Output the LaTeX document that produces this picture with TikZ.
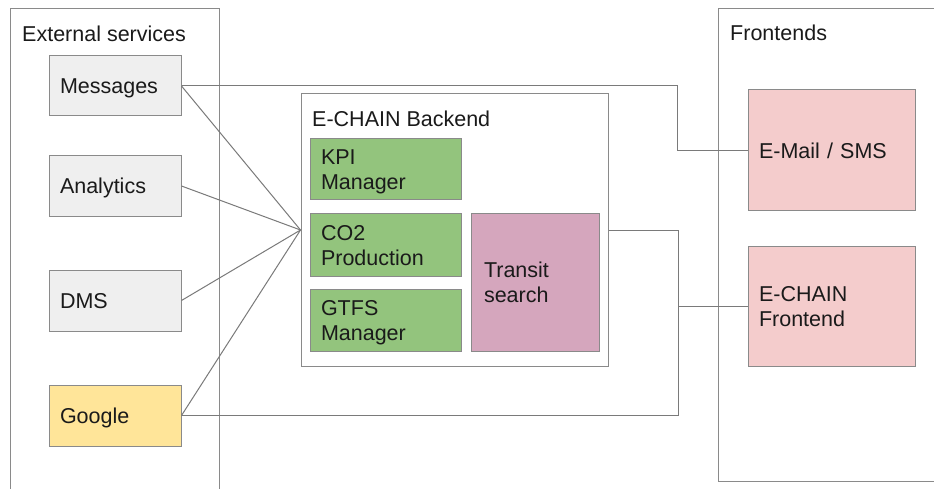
\documentclass[tikz,border=0pt]{standalone}
\usepackage{fontspec}
\setmainfont{Liberation Sans}
\definecolor{edge}{HTML}{8A8A8A}
\definecolor{wire}{HTML}{7A7A7A}
\definecolor{svcgray}{HTML}{EFEFEF}
\definecolor{modgreen}{HTML}{93C47D}
\definecolor{transit}{HTML}{D5A6BD}
\definecolor{fepink}{HTML}{F4CCCC}
\definecolor{gold}{HTML}{FFE599}
\definecolor{ink}{HTML}{1A1A1A}
\begin{document}
\begin{tikzpicture}[x=1pt,y=-1pt,
  every node/.style={font=\fontsize{21.5}{25}\selectfont, text=ink},
  box/.style={draw=edge, line width=1pt, rectangle, inner xsep=11pt, inner ysep=0pt, align=left, text depth=0pt},
  twoline/.style={text depth=25pt},
  svc/.style={box, fill=svcgray, text width=110pt, minimum height=61pt},
  mod/.style={box, twoline, fill=modgreen, text width=129pt, minimum height=61pt},
  fe/.style={box, fill=fepink, text width=145pt},
  cont/.style={draw=edge, line width=1pt},
  label/.style={anchor=base west, inner sep=0pt},
  wirestyle/.style={draw=wire, line width=1pt}
]
\useasboundingbox (0,0) rectangle (934,489);
\clip (0,0) rectangle (934,489);
\fill[white] (0,0) rectangle (934,489);
% containers
\draw[cont] (10,9) rectangle (219,500);
\draw[cont] (718,9) rectangle (950,481);
\node[label] (extlabel) at (22,42) {External services};
\node[label] (felabel) at (730,41) {Frontends};
% backend container
\node[draw=edge, line width=1pt, fill=white, minimum width=307pt, minimum height=272pt, inner sep=0pt] (backend) at (454.5,230) {};
\node[label] (belabel) at (312,127) {E-CHAIN Backend};
% services
\node[svc, minimum height=60pt] (msg) at (115,86) {Messages};
\node[svc] (ana) at (115,186) {Analytics};
\node[svc] (dms) at (115,300.5) {DMS};
\node[svc, fill=gold] (goo) at (115,415.5) {Google};
% modules
\node[mod] (kpi) at (385.5,169.5) {KPI\\Manager};
\node[mod, minimum height=62pt] (co2) at (385.5,245) {CO2\\Production};
\node[mod, minimum height=62pt] (gtfs) at (385.5,320) {GTFS\\Manager};
\node[box, twoline, fill=transit, text width=102pt, inner xsep=13pt, minimum height=137pt] (tsearch) at (535,282.5) {Transit\\search};
% frontends
\node[fe, minimum height=121pt] (email) at (831.5,150.5) {E-Mail / SMS};
\node[fe, twoline, minimum height=120pt] (efront) at (831.5,306) {E-CHAIN\\Frontend};
% connectors
\draw[wirestyle] (msg.east) -- (backend.west);
\draw[wirestyle] (ana.east) -- (backend.west);
\draw[wirestyle] (dms.east) -- (backend.west);
\draw[wirestyle] (goo.east) -- (backend.west);
\coordinate (jmsg) at (677,86);
\draw[wirestyle] (msg.east) -- (jmsg) |- (email.west);
\coordinate (jbe) at (678,230);
\coordinate (jfe) at (678,306);
\draw[wirestyle] (backend.east) -- (jbe) |- (goo.east);
\draw[wirestyle] (jfe) -- (efront.west);
\end{tikzpicture}
\end{document}
